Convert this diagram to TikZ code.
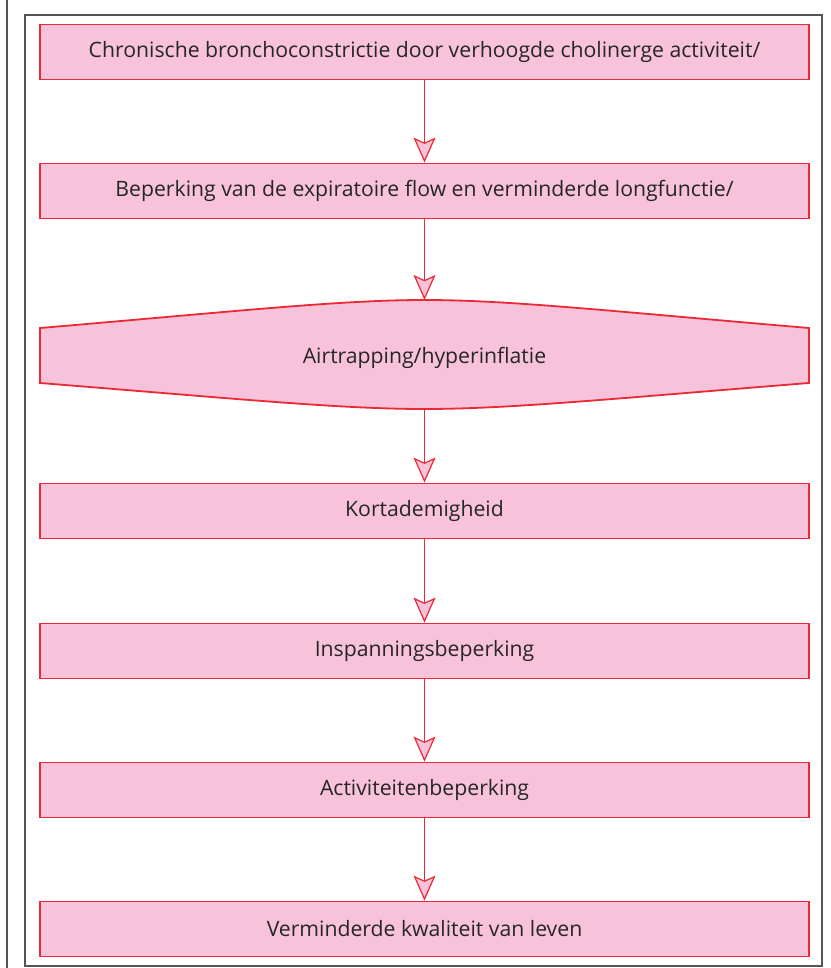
\documentclass[tikz,border=0pt]{standalone}
\usepackage{fontspec}
\setmainfont{Open Sans}
\usepackage{tikz}
\usetikzlibrary{arrows.meta,positioning}
\definecolor{cfpink}{RGB}{247,194,218}
\definecolor{cfred}{RGB}{236,40,52}
\definecolor{cfgray}{RGB}{85,85,85}
\tikzstyle{stepbox} = [draw=cfred, line width=1.8pt, fill=cfpink, minimum width=769pt, minimum height=55pt, inner sep=0pt, font=\fontsize{21.2}{24}\selectfont, text=black!85]
\tikzstyle{arrow} = [draw=cfred, line width=1.2pt, -{Stealth[length=25pt,width=22pt,inset=5pt,fill=cfpink,line width=1.2pt]}]

\begin{document}
\begin{tikzpicture}[x=1pt, y=-1pt]
\useasboundingbox (0,0) rectangle (830,968);
% Frame
\draw[cfgray, line width=1.6pt] (7,0) -- (7,968);
\draw[cfgray, line width=2pt] (25,15) rectangle (822,966);

% Boxes
\node[stepbox] (chron) at (424.5,52) {Chronische bronchoconstrictie door verhoogde cholinerge activiteit/};
\node[stepbox] (flow) at (424.5,191) {Beperking van de expiratoire flow en verminderde longfunctie/};

% Hexagon
\fill[cfpink, draw=cfred, line width=1.8pt] (40,328) .. controls (240,311) and (340,300) .. (424.5,300)
  .. controls (509,300) and (609,311) .. (809,328) -- (809,383)
  .. controls (609,399) and (509,409) .. (424.5,409)
  .. controls (340,409) and (240,399) .. (40,383) -- cycle;
\coordinate (hextop) at (424.5,300);
\coordinate (hexbot) at (424.5,409);
\node[font=\fontsize{21.2}{24}\selectfont, text=black!85] (air) at (424.5,358) {Airtrapping/hyperinflatie};

\node[stepbox] (kort) at (424.5,511) {Kortademigheid};
\node[stepbox] (insp) at (424.5,651) {Inspanningsbeperking};
\node[stepbox] (activ) at (424.5,790) {Activiteitenbeperking};
\node[stepbox] (kwal) at (424.5,929) {Verminderde kwaliteit van leven};

% Arrows
\draw[arrow] (chron) -- (flow);
\draw[arrow] (flow) -- (hextop);
\draw[arrow] (hexbot) -- (kort);
\draw[arrow] (kort) -- (insp);
\draw[arrow] (insp) -- (activ);
\draw[arrow] (activ) -- (kwal);
\end{tikzpicture}
\end{document}
